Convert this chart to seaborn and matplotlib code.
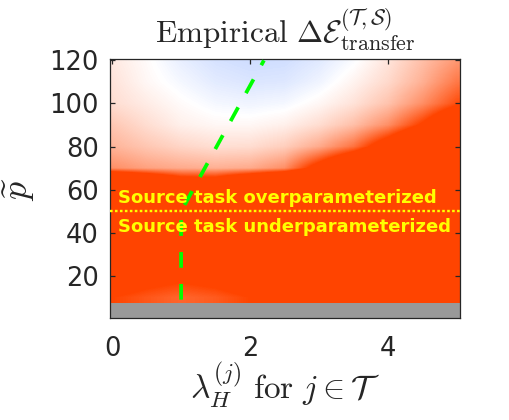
import matplotlib
matplotlib.use("Agg")
import matplotlib.pyplot as plt
import numpy as np
import seaborn as sns
from matplotlib.colors import LinearSegmentedColormap, Normalize

# grid of the empirical map (values in colour units: 0 = white, >=1 = full red, <0 = blue)
lambda_grid = [0.0, 0.5, 1.0, 1.5, 2.0, 2.5, 3.0, 3.5, 4.0, 4.5, 5.0]
p_grid = [10, 20, 30, 40, 50, 60, 70, 80, 90, 100, 110, 120]

row_p10 = [1.0, 0.9, 0.82, 0.88, 1.0, 1.3, 2.0, 2.5, 3.0, 3.0, 3.0]
row_p20 = [1.3, 1.15, 1.08, 1.15, 1.3, 1.8, 2.5, 3.0, 3.0, 3.0, 3.0]
row_p30 = [3.0, 3.0, 3.0, 3.0, 3.0, 3.0, 3.0, 3.0, 3.0, 3.0, 3.0]
row_p40 = [3.0, 3.0, 3.0, 3.0, 3.0, 3.0, 3.0, 3.0, 3.0, 3.0, 3.0]
row_p50 = [3.0, 3.0, 3.0, 3.0, 3.0, 3.0, 3.0, 3.0, 3.0, 3.0, 3.0]
row_p60 = [3.0, 2.5, 1.8, 1.8, 2.5, 3.0, 3.5, 3.5, 3.5, 3.5, 3.5]
row_p70 = [0.6, 0.5, 0.45, 0.42, 0.45, 0.6, 1.2, 1.8, 2.5, 3.0, 3.0]
row_p80 = [0.4, 0.3, 0.22, 0.17, 0.18, 0.26, 0.45, 0.75, 1.3, 1.9, 2.5]
row_p90 = [0.3, 0.18, 0.08, 0.04, 0.04, 0.08, 0.18, 0.34, 0.6, 1.05, 1.6]
row_p100 = [0.18, 0.1, 0.02, -0.04, -0.06, -0.04, 0.04, 0.15, 0.32, 0.6, 0.95]
row_p110 = [0.15, 0.04, -0.04, -0.11, -0.14, -0.13, -0.06, 0.06, 0.2, 0.42, 0.72]
row_p120 = [0.12, 0.02, -0.09, -0.16, -0.19, -0.18, -0.12, -0.02, 0.14, 0.34, 0.55]

# rows with p below this are undefined (gray)
p_undefined = 7.5

# theoretical threshold curve (green dashed)
curve_lambda = [1.0, 1.0, 2.2]
curve_p = [9, 50, 120]

p_source = 50
over_label = "Source task overparameterized"
under_label = "Source task underparameterized"

x_ticks = [0, 2, 4]
y_ticks = [20, 40, 60, 80, 100, 120]

sns.set_style("ticks")
plt.rcParams.update({
    "font.family": ["DejaVu Sans"],
    "mathtext.fontset": "cm",
    "axes.edgecolor": "#262626",
    "axes.linewidth": 0.9,
    "xtick.color": "#262626",
    "ytick.color": "#262626",
    "xtick.direction": "in",
    "ytick.direction": "in",
})

values = np.array([row_p10, row_p20, row_p30, row_p40, row_p50, row_p60,
                   row_p70, row_p80, row_p90, row_p100, row_p110, row_p120])

cmap = LinearSegmentedColormap.from_list(
    "bwr_custom", [(0.0, 0.3, 1.0), (1.0, 1.0, 1.0), (1.0, 0.27, 0.0)])

fig = plt.figure(figsize=(5.09, 4.2), dpi=100)
ax = fig.add_axes([0.2161, 0.2429, 0.6876, 0.6159])

dl = lambda_grid[1] - lambda_grid[0]
dp = p_grid[1] - p_grid[0]
ax.imshow(values, origin="lower", aspect="auto", cmap=cmap,
          norm=Normalize(vmin=-1, vmax=1), interpolation="bilinear",
          interpolation_stage="data",
          extent=[lambda_grid[0] - dl / 2, lambda_grid[-1] + dl / 2,
                  p_grid[0] - dp / 2, p_grid[-1] + dp / 2])
ax.axhspan(0.5, p_undefined, color="#999999", zorder=2, lw=0)

sns.lineplot(x=curve_lambda, y=curve_p, sort=False, estimator=None, ax=ax,
             color="#00ff00", lw=2.7, dashes=False, zorder=3)
ax.lines[-1].set_dashes((4.2, 4.3))
ax.lines[-1].set_dash_capstyle("butt")

ax.axhline(p_source, color="#ffff00", lw=1.7, ls=(0, (1.1, 1.0)), zorder=3)
ax.text(0.09, 54.0, over_label, color="#ffff00", fontsize=13,
        fontweight="bold", zorder=4)
ax.text(0.09, 40.4, under_label, color="#ffff00", fontsize=13,
        fontweight="bold", zorder=4)

ax.set_xlim(-0.03, 5.04)
ax.set_ylim(0.5, 120.5)
ax.set_xticks(x_ticks)
ax.set_yticks(y_ticks)
ax.tick_params(labelsize=18.5, length=3.5, width=0.9, top=True, right=True)
ax.tick_params(axis="x", pad=13)
ax.tick_params(axis="y", pad=8)

ax.set_title(r"$\mathrm{Empirical}\ \Delta\mathcal{E}_{\mathrm{transfer}}^{(\mathcal{T},\mathcal{S})}$",
             fontsize=22.5, pad=12)
ax.set_xlabel(r"$\lambda_H^{(j)}\ \mathrm{for}\ j\in\mathcal{T}$", fontsize=24, labelpad=-1)
ax.set_ylabel(r"$\widetilde{p}$", fontsize=26, labelpad=9)

fig.savefig("out.png", dpi=100)
